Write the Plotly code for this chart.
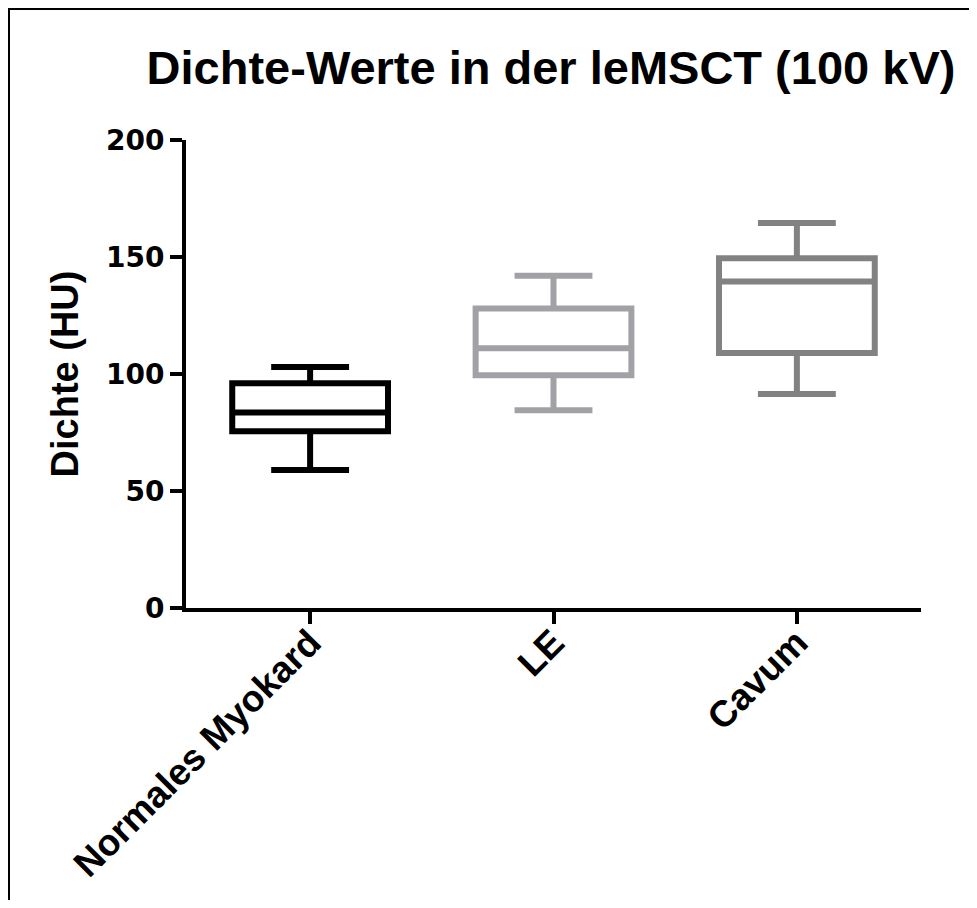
import plotly.graph_objects as go

categories = ["Normales Myokard", "LE", "Cavum"]
lower_whisker = [59, 84.5, 91.5]
q1_values = [75.5, 99.5, 109]
median_values = [83.5, 111, 139.5]
q3_values = [96, 128, 149.5]
upper_whisker = [103, 142, 164.5]
colors = ["#000000", "#A2A2A6", "#828282"]

# page has an 8px body margin; figure sized to fit inside the 977x908 window
W, H = 961, 892
L, R, T, B = 178, 48, 132, 292
pw, ph = W - L - R, H - T - B

fig = go.Figure()
for i, cat in enumerate(categories):
    fig.add_trace(go.Box(
        x=[cat], q1=[q1_values[i]], median=[median_values[i]], q3=[q3_values[i]],
        lowerfence=[lower_whisker[i]], upperfence=[upper_whisker[i]],
        line=dict(color=colors[i], width=6), fillcolor="white",
        width=0.64, whiskerwidth=0.5, boxpoints=False, showlegend=False,
        hoverinfo="skip",
    ))

arial = "Arial, Liberation Sans, sans-serif"
wide = "DejaVu Sans, Verdana, sans-serif"

def px2paper_x(px):
    return (px - L) / pw

def px2paper_y(py):
    return (H - B - py) / ph

fig.update_layout(
    width=W, height=H,
    margin=dict(l=L, r=R, t=T, b=B),
    paper_bgcolor="white", plot_bgcolor="white",
    boxmode="overlay",
    title=dict(text="Dichte-Werte in der leMSCT (100 kV)", x=543 / W,
               xanchor="center", y=1 - 60 / H, yanchor="middle",
               font=dict(family=arial, size=47, color="black", weight="bold")),
    font=dict(family=arial, color="black"),
    xaxis=dict(
        type="category", range=[-0.51, 2.51], automargin=False,
        showline=True, linecolor="black", linewidth=4,
        ticks="outside", ticklen=12, tickwidth=4, tickcolor="black",
        tickangle=-45, showgrid=False, zeroline=False, ticklabelstandoff=-18,
        tickfont=dict(family=arial, size=37, color="black", weight="bold"),
    ),
    yaxis=dict(
        range=[0, 200], tickvals=[0, 50, 100, 150, 200], automargin=False,
        showline=True, linecolor="black", linewidth=4,
        ticks="outside", ticklen=12, tickwidth=4, tickcolor="black",
        showgrid=False, zeroline=False,
        tickfont=dict(family=wide, size=28, color="black", weight="bold"),
        title=dict(text="Dichte (HU)", standoff=17,
                   font=dict(family=arial, size=38, color="black", weight="bold")),
    ),
    shapes=[
        dict(type="line", xref="paper", yref="paper",
             x0=px2paper_x(0), x1=px2paper_x(W), y0=px2paper_y(1), y1=px2paper_y(1),
             line=dict(color="black", width=2)),
        dict(type="line", xref="paper", yref="paper",
             x0=px2paper_x(1), x1=px2paper_x(1), y0=px2paper_y(0), y1=px2paper_y(H),
             line=dict(color="black", width=2)),
    ],
)

fig.write_html("out.html")
